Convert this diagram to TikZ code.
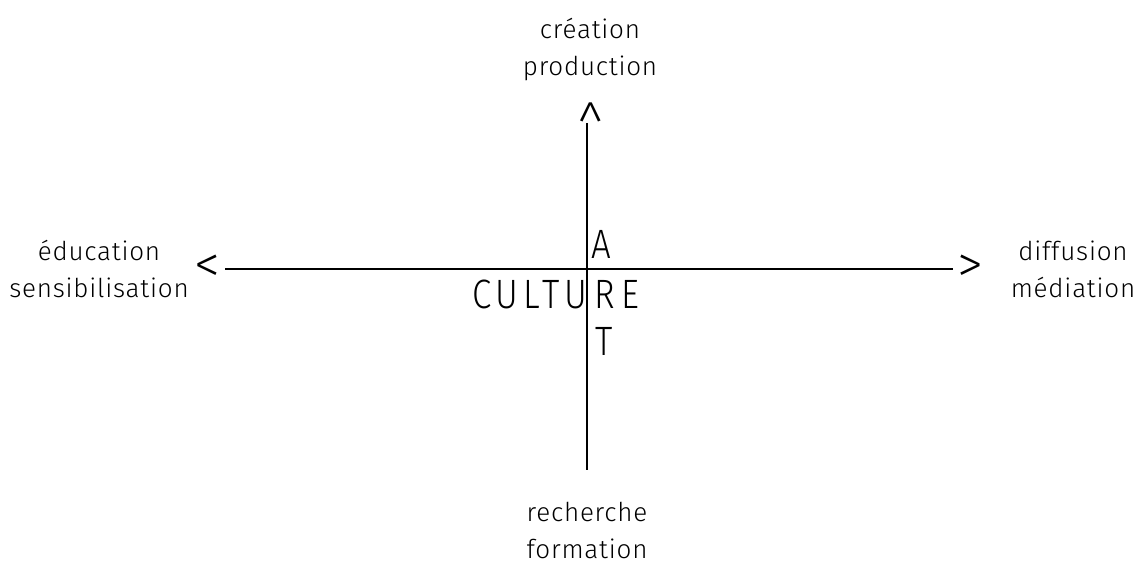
\documentclass[tikz,border=0pt]{standalone}
\usepackage{fontspec}
\setmainfont{Fira Sans}[UprightFont=* Light]
\usepackage{tikz}
\usetikzlibrary{positioning, calc}

\begin{document}
\begin{tikzpicture}[x=1pt, y=-1pt,
  axis/.style={line width=2.7pt},
  pole/.style={align=center, font=\fontsize{26}{37}\selectfont\addfontfeature{LetterSpace=3}, inner sep=0pt},
  tip/.style={font=\fontsize{52}{52}\selectfont, inner sep=0pt},
  big/.style={font=\fontsize{41}{41}\selectfont\addfontfeature{FakeStretch=0.85}, inner sep=0pt, anchor=base west},
]
  \useasboundingbox (0,0) rectangle (1147,563);

  % Ends of the axes
  \node[tip] (lt) at (207,269) {<};
  \node[tip] (rt) at (970,269) {>};
  \node[tip, rotate=-90] (up) at (587,112) {<};
  \coordinate (down) at (587,470);

  % Axes
  \draw[axis] ($(lt.east)+(5,0)$) -- ($(rt.west)+(-4,0)$);
  \draw[axis] ($(up.east)+(0,-2)$) -- (down);

  % Poles
  \node[pole] (crea) at (590,49) {création\\production};
  \node[pole] (educ) at (99,269) {éducation\\sensibilisation};
  \node[pole] (diff) at (1073,269) {diffusion\\médiation};
  \node[pole] (rech) at (587,530) {recherche\\formation};

  % Words in the middle
  \node[big] (culture) at (472,308) {\addfontfeature{LetterSpace=12}CULTU};
  \node[big] (r) at (594,308) {R};
  \node[big] (e) at (621,308) {E};
  \node[big] (a) at (591,258) {A};
  \node[big] (t) at (595,355) {T};
\end{tikzpicture}
\end{document}
